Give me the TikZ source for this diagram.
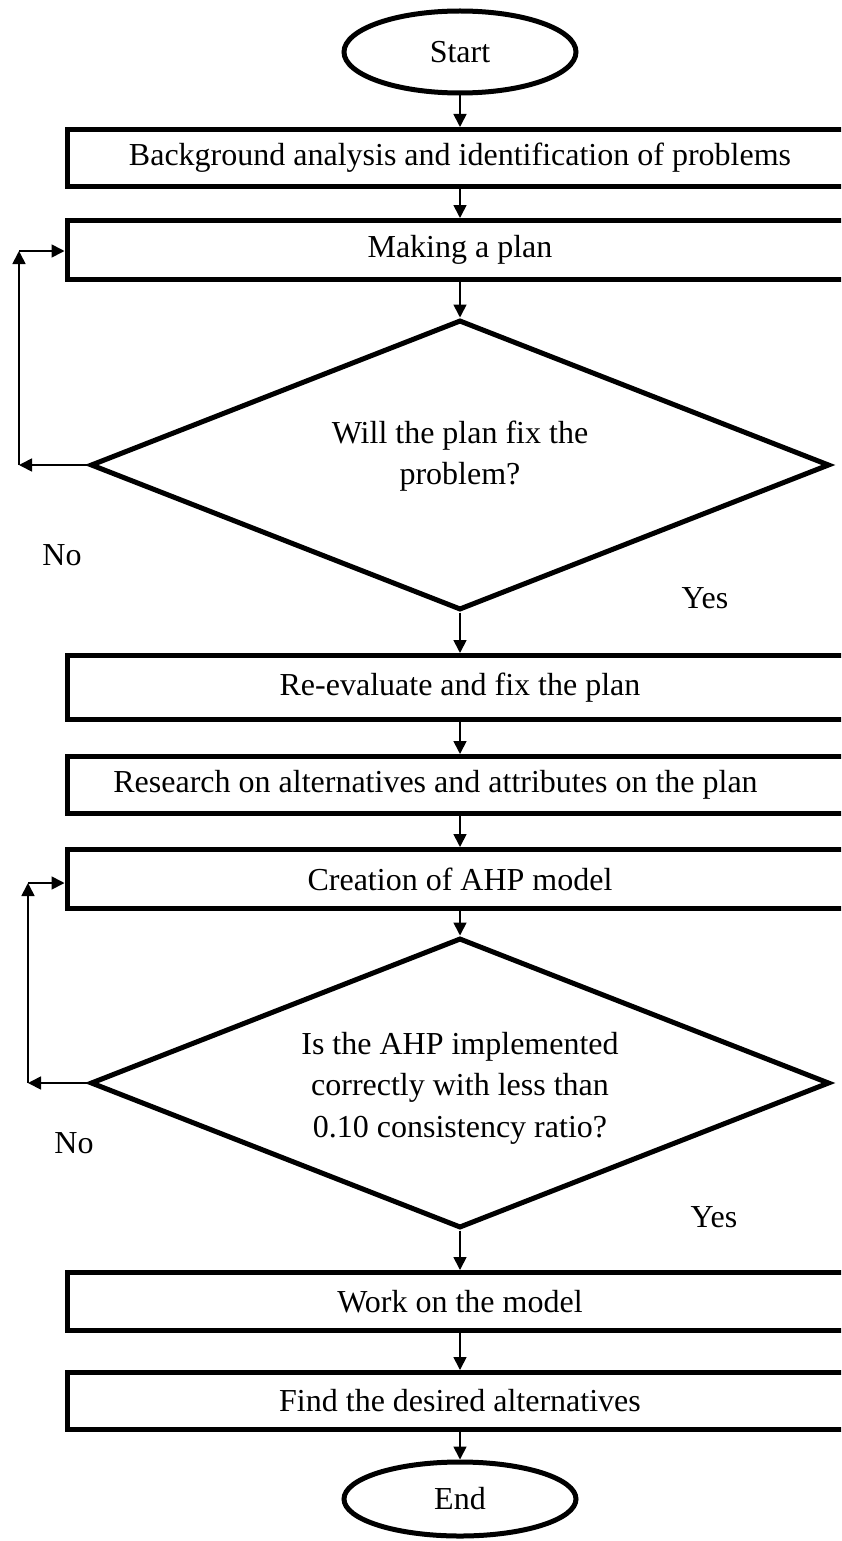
\documentclass[tikz,border=0pt]{standalone}
\usepackage{fontspec}
\setmainfont{Liberation Serif}
\usetikzlibrary{shapes.geometric,arrows.meta}
\begin{document}
\begin{tikzpicture}[x=1pt,y=-1pt,
  every node/.style={font=\fontsize{32}{41.5}\selectfont},
  term/.style={ellipse,draw,line width=5pt,minimum width=232,inner sep=0},
  proc/.style={rectangle,draw,line width=5pt,minimum width=786,minimum height=#1,inner sep=0},
  dia/.style={diamond,draw,line width=5pt,minimum width=739,minimum height=290,inner sep=0},
  txt/.style={align=center,inner sep=0},
  arr/.style={line width=1.7pt,-{Triangle[length=13pt,width=13pt]}}
]
\useasboundingbox (0,0) rectangle (841,1541);
\clip (0,0) rectangle (841,1541);

\node[term,minimum height=82] (s) at (460,52) {Start};
\node[proc=57] (b1) at (460,158) {Background analysis and identification of problems};
\node[proc=59] (b2) at (460,250) {Making a plan};
\node[dia] (d1) at (460,465) {};
\node[txt] (t1) at (460,456) {Will the plan fix the\\problem?};
\node[proc=64] (b3) at (460,687.5) {Re-evaluate and fix the plan};
\node[proc=57] (b4) at (460,785) {Research on alternatives and attributes on the plan\hspace*{49pt}};
\node[proc=59] (b5) at (460,879) {Creation of AHP model};
\node[dia] (d2) at (460,1083) {};
\node[txt] (t2) at (460,1088) {Is the AHP implemented\\correctly with less than\\0.10 consistency ratio?};
\node[proc=58] (b6) at (460,1301.5) {Work on the model};
\node[proc=57] (b7) at (460,1401) {Find the desired alternatives};
\node[term,minimum height=74] (e) at (460,1499) {End};

\node (no1) at (62,555) {No};
\node (yes1) at (705,598) {Yes};
\node (no2) at (74,1143) {No};
\node (yes2) at (714,1217) {Yes};

\draw[arr] (s) -- (b1);
\draw[arr] (b1) -- (b2);
\draw[arr] (b2) -- (d1);
\draw[arr] (d1) -- (b3);
\draw[arr] (b3) -- (b4);
\draw[arr] (b4) -- (b5);
\draw[arr] (b5) -- (d2);
\draw[arr] (d2) -- (b6);
\draw[arr] (b6) -- (b7);
\draw[arr] (b7) -- (e);

\coordinate (c1) at (19,465);
\coordinate (c2) at (19,251);
\draw[arr] (d1.west) -- (c1);
\draw[arr] (c1) -- (c2);
\draw[arr] (c2) -- (b2.west |- c2);

\coordinate (c3) at (28,1083);
\coordinate (c4) at (28,883);
\draw[arr] (d2.west) -- (c3);
\draw[arr] (c3) -- (c4);
\draw[arr] (c4) -- (b5.west |- c4);
\end{tikzpicture}
\end{document}
